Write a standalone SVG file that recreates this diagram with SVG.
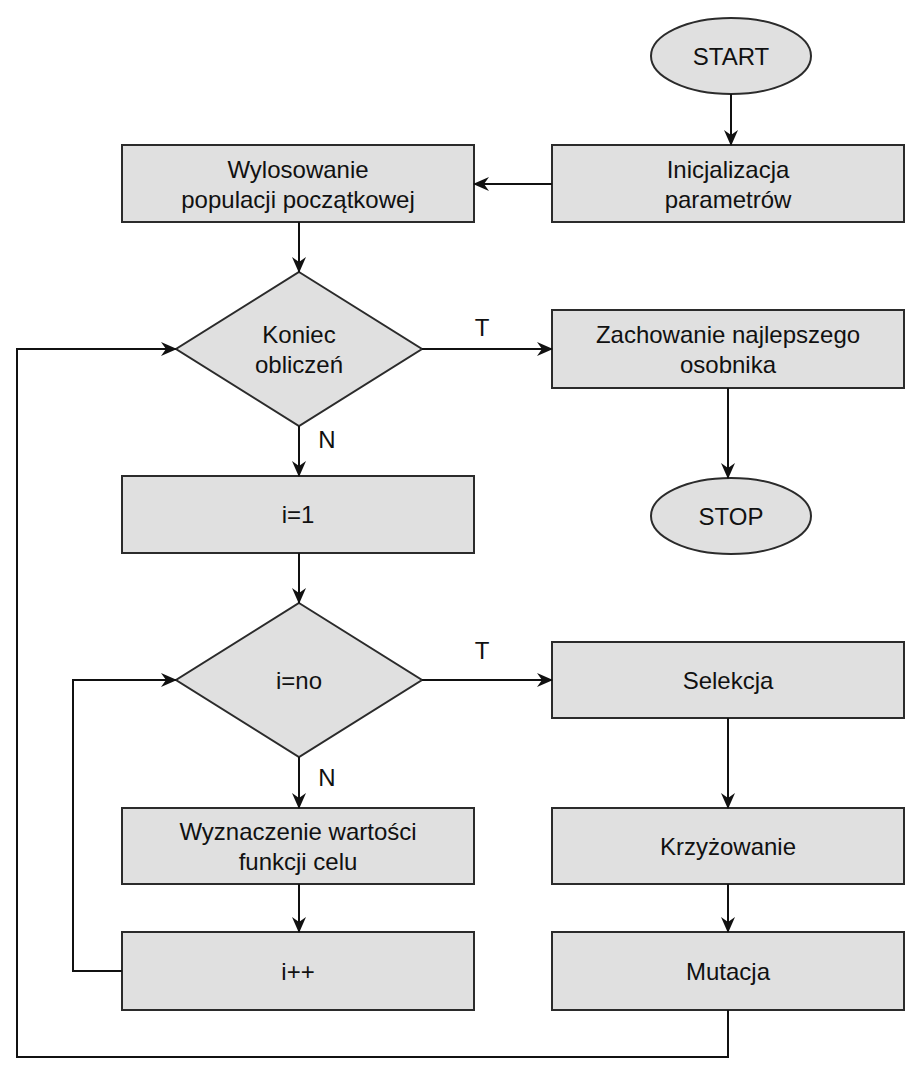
<svg xmlns="http://www.w3.org/2000/svg" width="924" height="1076" viewBox="0 0 924 1076">
<style>
.n{fill:#e0e0e0;stroke:#2b2b2b;stroke-width:2}
.t{font-family:"Liberation Sans",Arial,sans-serif;font-size:24px;fill:#111;text-anchor:middle}
.c{fill:none;stroke:#111;stroke-width:2;marker-end:url(#a)}
</style>
<defs><marker id="a" markerWidth="16" markerHeight="14" refX="15" refY="7" orient="auto" markerUnits="userSpaceOnUse"><path d="M0,0 L16,7 L0,14 L5,7 Z" fill="#111"/></marker></defs>
<rect width="924" height="1076" fill="#fff"/>
<g id="start"><ellipse class="n" cx="731" cy="56" rx="80" ry="38"/><text class="t" x="731" y="65">START</text></g>
<g id="init"><rect class="n" x="552" y="145" width="352" height="77"/><text class="t" x="728" y="178">Inicjalizacja</text><text class="t" x="728" y="208">parametrów</text></g>
<g id="losowanie"><rect class="n" x="122" y="145" width="352" height="77"/><text class="t" x="298" y="178">Wylosowanie</text><text class="t" x="298" y="208">populacji początkowej</text></g>
<g id="koniec"><polygon class="n" points="299,272 422,349 299,426 176,349"/><text class="t" x="299" y="343">Koniec</text><text class="t" x="299" y="373">obliczeń</text></g>
<g id="zachowanie"><rect class="n" x="552" y="310" width="352" height="78"/><text class="t" x="728" y="343">Zachowanie najlepszego</text><text class="t" x="728" y="373">osobnika</text></g>
<g id="stop"><ellipse class="n" cx="731" cy="516" rx="80" ry="38"/><text class="t" x="731" y="525">STOP</text></g>
<g id="i1"><rect class="n" x="122" y="476" width="352" height="77"/><text class="t" x="298" y="523">i=1</text></g>
<g id="ino"><polygon class="n" points="299,603 422,680 299,757 176,680"/><text class="t" x="299" y="689">i=no</text></g>
<g id="selekcja"><rect class="n" x="552" y="642" width="352" height="76"/><text class="t" x="728" y="689">Selekcja</text></g>
<g id="wyznaczenie"><rect class="n" x="122" y="808" width="352" height="76"/><text class="t" x="298" y="840">Wyznaczenie wartości</text><text class="t" x="298" y="870">funkcji celu</text></g>
<g id="krzyzowanie"><rect class="n" x="552" y="808" width="352" height="76"/><text class="t" x="728" y="855">Krzyżowanie</text></g>
<g id="ipp"><rect class="n" x="122" y="932" width="352" height="78"/><text class="t" x="298" y="980">i++</text></g>
<g id="mutacja"><rect class="n" x="552" y="932" width="352" height="78"/><text class="t" x="728" y="980">Mutacja</text></g>
<g id="connectors">
<path class="c" d="M731,94 V145"/>
<path class="c" d="M552,184 H474"/>
<path class="c" d="M299,222 V272"/>
<path class="c" d="M422,349 H552"/>
<path class="c" d="M728,388 V478"/>
<path class="c" d="M299,426 V476"/>
<path class="c" d="M299,553 V603"/>
<path class="c" d="M422,680 H552"/>
<path class="c" d="M299,757 V808"/>
<path class="c" d="M728,718 V808"/>
<path class="c" d="M299,884 V932"/>
<path class="c" d="M728,884 V932"/>
<path class="c" d="M122,971 H73 V680 H176"/>
<path class="c" d="M728,1010 V1057 H17 V349 H176"/>
<text class="t" x="482" y="336">T</text>
<text class="t" x="327" y="448">N</text>
<text class="t" x="482" y="659">T</text>
<text class="t" x="327" y="786">N</text>
</g>
</svg>
